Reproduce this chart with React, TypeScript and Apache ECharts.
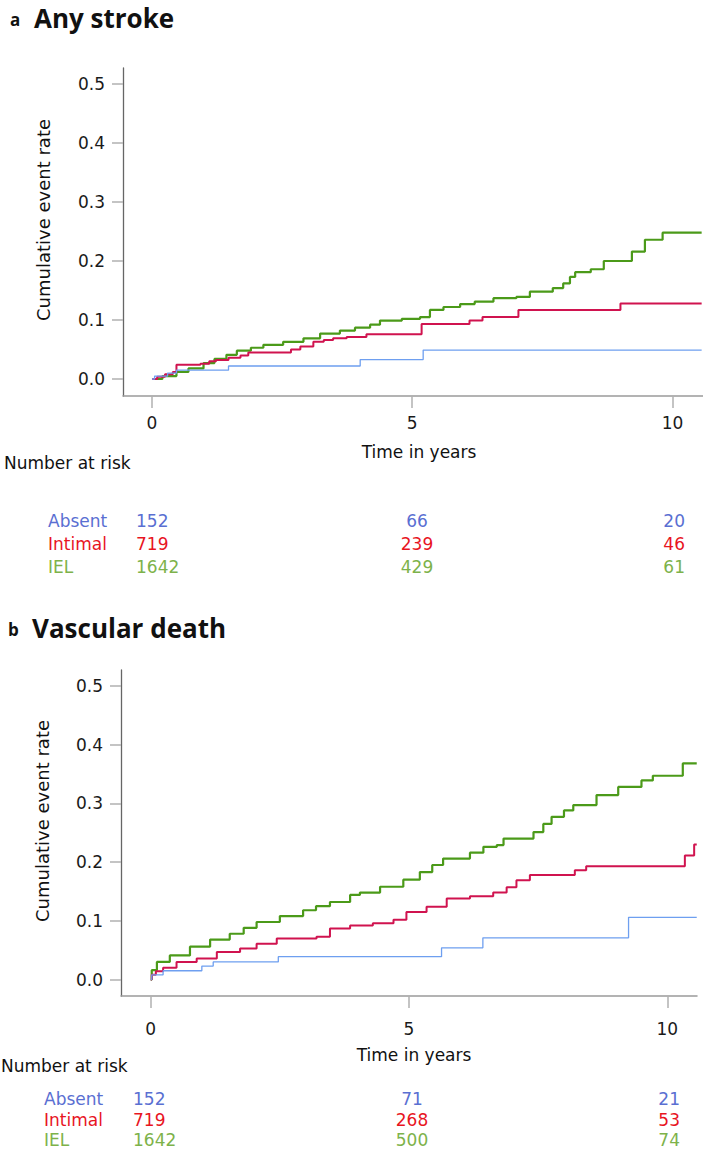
import React, { useEffect, useRef } from "react";
import * as echarts from "echarts";

// ---------- data ----------
const xTicks = [0, 5, 10];
const yTicks = [0, 0.1, 0.2, 0.3, 0.4, 0.5];
const groups = ["Absent", "Intimal", "IEL"];

// Panel a: Any stroke  [time in years, cumulative event rate]
const strokeAbsent = [[0,0],[0.05,0.005],[0.3,0.01],[0.47,0.015],[1.47,0.022],[4.0,0.033],[5.21,0.049],[10.56,0.049]];
const strokeIntimal = [[0,0],[0.1,0.004],[0.25,0.008],[0.4,0.012],[0.47,0.024],[0.93,0.026],[1.1,0.03],[1.23,0.032],[1.47,0.036],[1.7,0.04],[1.85,0.045],[2.67,0.05],[2.85,0.055],[3.1,0.063],[3.3,0.066],[3.48,0.069],[3.74,0.071],[4.12,0.076],[5.18,0.093],[6.1,0.099],[6.35,0.105],[7.04,0.117],[9.0,0.128],[10.56,0.128]];
const strokeIEL = [[0,0],[0.2,0.005],[0.47,0.012],[0.7,0.018],[0.99,0.027],[1.2,0.034],[1.43,0.041],[1.63,0.048],[1.9,0.053],[2.14,0.058],[2.52,0.063],[2.91,0.069],[3.23,0.077],[3.61,0.082],[3.9,0.087],[4.19,0.092],[4.38,0.099],[4.8,0.102],[5.15,0.105],[5.34,0.117],[5.6,0.122],[5.92,0.127],[6.2,0.131],[6.56,0.137],[7.0,0.139],[7.26,0.148],[7.7,0.154],[7.9,0.162],[8.03,0.173],[8.13,0.181],[8.43,0.186],[8.68,0.2],[9.22,0.216],[9.47,0.236],[9.81,0.248],[10.56,0.248]];

// Panel b: Vascular death
const deathAbsent = [[0,0],[0.02,0.008],[0.24,0.015],[0.99,0.023],[1.21,0.03],[2.47,0.039],[5.63,0.054],[6.43,0.071],[9.25,0.106],[10.57,0.106]];
const deathIntimal = [[0,0],[0.02,0.008],[0.1,0.014],[0.24,0.02],[0.5,0.03],[0.89,0.036],[1.28,0.047],[1.73,0.053],[2.05,0.061],[2.44,0.07],[3.21,0.073],[3.47,0.087],[3.86,0.092],[4.3,0.096],[4.7,0.102],[4.95,0.115],[5.34,0.124],[5.73,0.138],[6.18,0.142],[6.63,0.148],[6.89,0.157],[7.08,0.169],[7.34,0.178],[8.21,0.186],[8.43,0.193],[10.34,0.211],[10.52,0.23],[10.57,0.23]];
const deathIEL = [[0,0],[0.02,0.016],[0.12,0.03],[0.37,0.041],[0.76,0.056],[1.15,0.068],[1.53,0.078],[1.8,0.088],[2.05,0.098],[2.5,0.108],[2.95,0.118],[3.2,0.125],[3.47,0.132],[3.86,0.144],[4.05,0.148],[4.44,0.158],[4.89,0.17],[5.21,0.183],[5.45,0.195],[5.66,0.206],[6.18,0.216],[6.44,0.226],[6.7,0.229],[6.83,0.24],[7.41,0.251],[7.6,0.265],[7.76,0.277],[8.0,0.288],[8.18,0.297],[8.63,0.314],[9.05,0.328],[9.5,0.339],[9.72,0.347],[10.3,0.368],[10.57,0.368]];

// Number at risk at 0, 5, 10 years
const strokeRiskAbsent = [152, 66, 20];
const strokeRiskIntimal = [719, 239, 46];
const strokeRiskIEL = [1642, 429, 61];
const deathRiskAbsent = [152, 71, 21];
const deathRiskIntimal = [719, 268, 53];
const deathRiskIEL = [1642, 500, 74];

// ---------- styles ----------
const lineColors = ["#6e9ff0", "#d0134f", "#4b9a19"];
const lineWidths = [1.3, 2, 2.2];
const textColors = ["#5a6fd2", "#e8151f", "#7db24a"];
const FONT = "'DejaVu Sans', Verdana, sans-serif";
const TITLE_FONT = "'Open Sans', 'Noto Sans', sans-serif";

function makeAxes(gi: number, xmin: number, xmax: number, ymin: number, ymax: number, xMargin: number) {
  const x = {
    gridIndex: gi, type: "value", min: xmin, max: xmax,
    axisLine: { show: true, onZero: false, lineStyle: { color: "#9a9a9a", width: 1.5 } },
    axisTick: { show: true, customValues: xTicks, length: 12, lineStyle: { color: "#b0b0b0", width: 1.5 } },
    axisLabel: { customValues: xTicks, margin: xMargin, fontSize: 17, color: "#1a1a1a", fontFamily: FONT },
    splitLine: { show: false },
  };
  const y = {
    gridIndex: gi, type: "value", min: ymin, max: ymax,
    axisLine: { show: true, onZero: false, lineStyle: { color: "#666666", width: 1.3 } },
    axisTick: { show: true, customValues: yTicks, length: 11, lineStyle: { color: "#b0b0b0", width: 1.5 } },
    axisLabel: { customValues: yTicks, margin: 18, fontSize: 17, color: "#1a1a1a", fontFamily: FONT, formatter: (v: number) => v.toFixed(1) },
    splitLine: { show: false },
  };
  return { x, y };
}

function txt(text: string, x: number, y: number, opts: any = {}) {
  return {
    type: "text", x, y, rotation: opts.rotation || 0, silent: true,
    style: {
      text, fill: opts.color || "#111", fontSize: opts.size || 17,
      fontFamily: opts.family || FONT, fontWeight: opts.weight || "normal",
      align: opts.align || "left", verticalAlign: "middle",
    },
  };
}

function riskTable(rows: number[][], yRows: number[], labelX: number, c0: number, c1: number, c2: number) {
  const out: any[] = [];
  rows.forEach((r, i) => {
    const col = textColors[i];
    out.push(txt(groups[i], labelX, yRows[i], { color: col }));
    out.push(txt(String(r[0]), c0, yRows[i], { color: col }));
    out.push(txt(String(r[1]), c1, yRows[i], { color: col, align: "center" }));
    out.push(txt(String(r[2]), c2, yRows[i], { color: col, align: "right" }));
  });
  return out;
}

export default function App() {
  const ref = useRef<HTMLDivElement>(null);
  useEffect(() => {
    if (!ref.current) return;
    const chart = echarts.init(ref.current, undefined, { renderer: "svg" });
    const a = makeAxes(0, -0.557, 10.586, -0.0288, 0.527, 18);
    const b = makeAxes(1, -0.575, 10.575, -0.028, 0.527, 24);
    const sets = [
      [strokeAbsent, strokeIntimal, strokeIEL],
      [deathAbsent, deathIntimal, deathIEL],
    ];
    const series: any[] = [];
    sets.forEach((s, gi) => {
      s.forEach((d, i) => {
        series.push({
          type: "line", name: groups[i], xAxisIndex: gi, yAxisIndex: gi,
          step: "end", data: d, symbol: "none", showSymbol: false,
          lineStyle: { color: lineColors[i], width: lineWidths[i] },
          z: 2 + (2 - i),
        });
      });
    });
    const graphic: any[] = [
      txt("a", 10, 19, { size: 17, weight: "bold", family: TITLE_FONT }),
      txt("Any stroke", 34, 18, { size: 26, weight: "bold", family: TITLE_FONT }),
      txt("Cumulative event rate", 43, 220, { rotation: Math.PI / 2, align: "center", size: 18 }),
      txt("Time in years", 419, 452, { align: "center" }),
      txt("Number at risk", 4, 463),
      ...riskTable([strokeRiskAbsent, strokeRiskIntimal, strokeRiskIEL], [521, 544, 567], 48, 136, 417, 685),
      txt("b", 8, 629, { size: 17, weight: "bold", family: TITLE_FONT }),
      txt("Vascular death", 32, 628, { size: 26, weight: "bold", family: TITLE_FONT }),
      txt("Cumulative event rate", 42, 821, { rotation: Math.PI / 2, align: "center", size: 18 }),
      txt("Time in years", 414, 1055, { align: "center" }),
      txt("Number at risk", 1, 1066),
      ...riskTable([deathRiskAbsent, deathRiskIntimal, deathRiskIEL], [1099, 1120, 1140], 44, 133, 412, 680),
    ];
    chart.setOption({
      animation: false,
      backgroundColor: "#ffffff",
      grid: [
        { left: 123, top: 68, width: 580, height: 328 },
        { left: 121, top: 670, width: 576, height: 326 },
      ],
      xAxis: [a.x, b.x],
      yAxis: [a.y, b.y],
      series,
      graphic,
    });
    return () => chart.dispose();
  }, []);
  return <div ref={ref} style={{ position: "absolute", left: 0, top: 0, width: 703, height: 1150 }} />;
}
